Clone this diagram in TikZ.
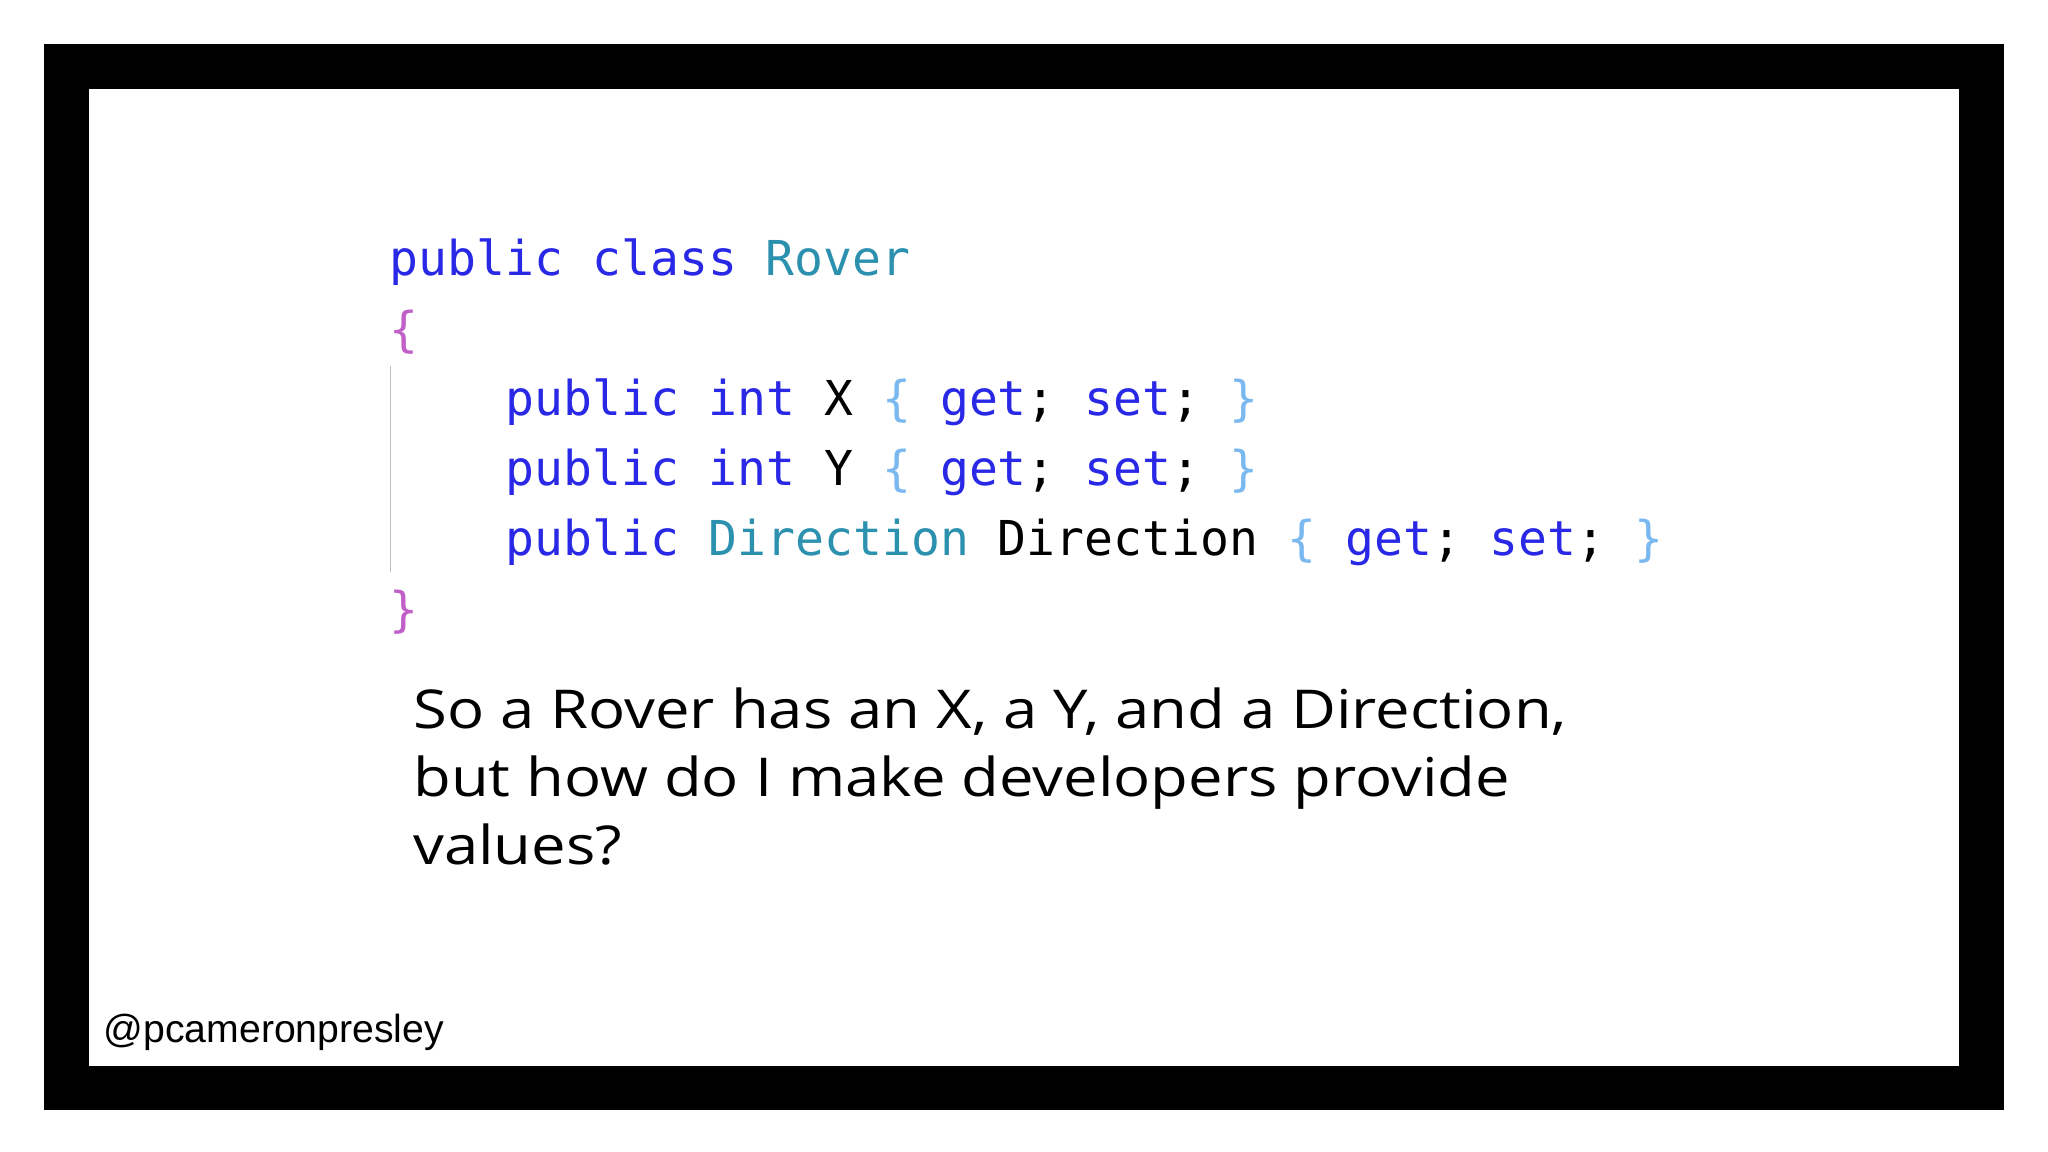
\documentclass[tikz,border=0pt]{standalone}
\usepackage{fontspec}
\setmainfont[FakeStretch=1.15]{Open Sans}
\newfontfamily\codefont{DejaVu Sans Mono}
\newfontfamily\handlefont{Liberation Sans}
\definecolor{kw}{HTML}{2828E6}
\definecolor{ty}{HTML}{2B91AF}
\definecolor{ob}{HTML}{C060C8}
\definecolor{ib}{HTML}{7AB8F0}
\begin{document}
\begin{tikzpicture}[x=0.5pt,y=-0.5pt,
  code/.style={anchor=base west,inner sep=0,font=\codefont\fontsize{18.4pt}{20pt}\selectfont},
  prose/.style={anchor=base west,inner sep=0,font=\fontsize{20.5pt}{24pt}\selectfont}]
\useasboundingbox (0,0) rectangle (1568,882);
\fill[white] (0,0) rectangle (1568,882);
\fill[black] (34,34) rectangle (1534,850);
\fill[white] (68,68) rectangle (1500,816);
\draw[gray!50,line width=0.6pt] (299,280) -- (299,438);
\node[code] (l1) at (298,211) {\textcolor{kw}{public} \textcolor{kw}{class} \textcolor{ty}{Rover}};
\node[code] (l2) at (298,265) {\textcolor{ob}{\{}};
\node[code] (l3) at (387,318) {\textcolor{kw}{public} \textcolor{kw}{int} X \textcolor{ib}{\{} \textcolor{kw}{get}; \textcolor{kw}{set}; \textcolor{ib}{\}}};
\node[code] (l4) at (387,372) {\textcolor{kw}{public} \textcolor{kw}{int} Y \textcolor{ib}{\{} \textcolor{kw}{get}; \textcolor{kw}{set}; \textcolor{ib}{\}}};
\node[code] (l5) at (387,425) {\textcolor{kw}{public} \textcolor{ty}{Direction} Direction \textcolor{ib}{\{} \textcolor{kw}{get}; \textcolor{kw}{set}; \textcolor{ib}{\}}};
\node[code] (l6) at (298,480) {\textcolor{ob}{\}}};
\node[prose] (p1) at (316,558) {So a Rover has an X, a Y, and a Direction,};
\node[prose] (p2) at (316,610) {but how do I make developers provide};
\node[prose] (p3) at (316,662) {values?};
\node[anchor=base west,inner sep=0,font=\handlefont\fontsize{15pt}{18pt}\selectfont] (h) at (79,798) {@pcameronpresley};
\end{tikzpicture}
\end{document}
